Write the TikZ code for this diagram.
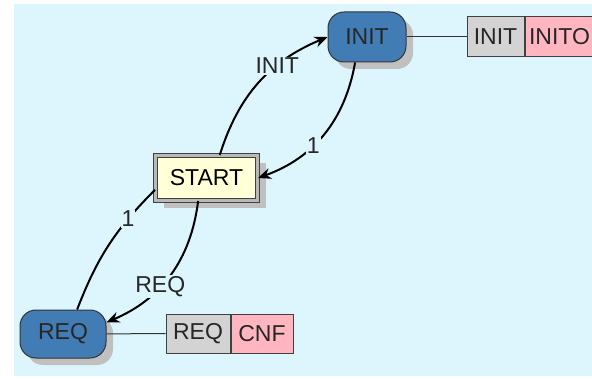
\documentclass[tikz,border=0pt]{standalone}
\usepackage{fontspec}
\setmainfont{Liberation Sans}
\usepackage{xcolor}
\usepackage{tikz}
\usetikzlibrary{arrows.meta,shadows,positioning}
\definecolor{fondCiel}{RGB}{221,245,253}
\definecolor{bleuEtat}{RGB}{66,124,180}
\definecolor{jauneStart}{RGB}{255,255,216}
\definecolor{grisCase}{RGB}{211,211,211}
\definecolor{roseCase}{RGB}{255,182,193}
\definecolor{ombre}{RGB}{192,192,192}

\begin{document}
\begin{tikzpicture}[x=1pt, y=1pt,
			font=\fontsize{23}{26}\selectfont,
			state/.style={draw=black!80, fill=bleuEtat, line width=1pt, rounded corners=16pt,
				minimum width=78pt, minimum height=50pt, inner sep=0pt, text=black!85,
				drop shadow={shadow xshift=7pt, shadow yshift=-7pt, fill=ombre, opacity=1}},
			initial/.style={draw=black!75, double=gray!55, double distance=2.5pt, line width=1pt,
				fill=jauneStart, minimum width=102pt, minimum height=45pt, inner sep=0pt,
				drop shadow={shadow xshift=8pt, shadow yshift=-8pt, fill=ombre, opacity=1}},
			cell/.style={draw=black!75, line width=1pt, minimum height=40pt, inner sep=0pt, text=black!85},
			lbl/.style={fill=fondCiel, inner sep=1pt, text=black!85},
			arrow/.style={-{Stealth[length=13pt, width=11pt]}, line width=2pt},
			plain/.style={line width=2pt},
			link/.style={line width=1pt, draw=black!80}
			]
			\useasboundingbox (0,0) rectangle (592,378);
			\clip (0,0) rectangle (592,378);
			\fill[fondCiel] (14,2) rectangle (600,374);
			
			\node[state] (init) at (367,341) {INIT};
			\node[initial] (start) at (206.5,200) {START};
			\node[state, minimum width=86pt, minimum height=48pt] (req) at (63,44) {REQ};
			
			\node[cell, fill=grisCase, minimum width=57pt] (initCell) at (495.5,341) {INIT};
			\node[cell, fill=roseCase, text width=72pt, inner xsep=4pt, align=left, right=0pt of initCell] (initoCell) {INITO};
			\node[cell, fill=grisCase, minimum width=64pt, minimum height=39pt] (reqCell) at (198,44.5) {REQ};
			\node[cell, fill=roseCase, minimum width=62pt, minimum height=39pt, right=0pt of reqCell] (cnfCell) {CNF};
			
			\draw[link] (init) -- (initCell);
			\draw[link] (req) -- (reqCell);
			
			\draw[arrow] (start.60) to[bend left=25] node[lbl, pos=0.66] {INIT} (init.west);
			\draw[arrow] (init.245) to[bend left=30] node[lbl, pos=0.6] {1} (start.east);
			\draw[plain] (req.60) to[bend left=12] node[lbl, pos=0.74] {1} (start.193);
			\draw[arrow] (start.250) to[bend left=30] node[lbl, pos=0.6] {REQ} (req.15);
		\end{tikzpicture}
\end{document}
